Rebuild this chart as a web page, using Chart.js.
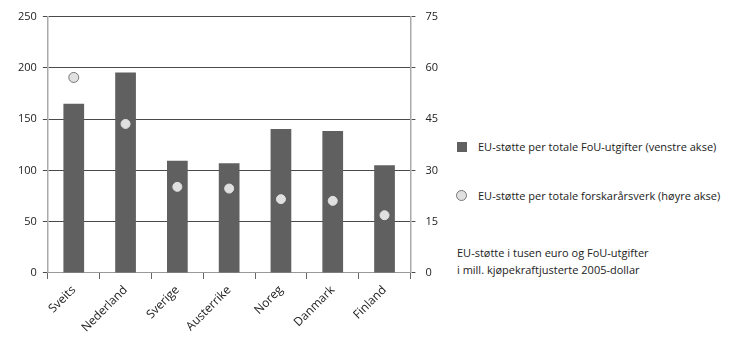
<!DOCTYPE html>
<html>
<head>
<meta charset="utf-8">
<script src="https://cdn.jsdelivr.net/npm/chart.js@4"></script>
<style>
  body { margin: 0; background: #fff; font-family: 'Open Sans', sans-serif; }
  #wrap { position: absolute; left: 0; top: 0; width: 448px; height: 346px; }
  .leg { position: absolute; font-size: 11px; color: #222; white-space: nowrap; }
  .sq { position: absolute; left: 457px; top: 142px; width: 10px; height: 10px; background: #606060; }
  .dot { position: absolute; left: 456px; top: 190px; width: 11px; height: 11px; border-radius: 50%; background: #e0e0e0; border: 1px solid #777; box-sizing: border-box; }
</style>
</head>
<body>
<div id="wrap"><canvas id="myChart"></canvas></div>
<div class="sq"></div>
<div class="leg" style="left:478px; top:139px;">EU-støtte per totale FoU-utgifter (venstre akse)</div>
<div class="dot"></div>
<div class="leg" style="left:478px; top:188px;">EU-støtte per totale forskarårsverk (høyre akse)</div>
<div class="leg" style="left:457px; top:244px; line-height:17px;">EU-støtte i tusen euro og FoU-utgifter<br>i mill. kjøpekraftjusterte 2005-dollar</div>
<script>
'use strict';

let countries = ['Sveits', 'Nederland', 'Sverige', 'Austerrike', 'Noreg', 'Danmark', 'Finland'];
let perSpending = [165, 195.5, 109.5, 107, 140.5, 138.5, 105];
let perResearcher = [57.2, 43.6, 25.2, 24.7, 21.6, 21.1, 16.9];
let leftTicks = [0, 50, 100, 150, 200, 250];
let rightTicks = [0, 15, 30, 45, 60, 75];

Chart.defaults.font.family = "'Open Sans', sans-serif";
Chart.defaults.font.size = 11;
Chart.defaults.color = '#222';

let ctx = document.getElementById('myChart').getContext('2d');
let myChart = new Chart(ctx, {
    data: {
        labels: countries,
        datasets: [{
                type: 'line',
                label: 'EU-støtte per totale forskarårsverk (høyre akse)',
                data: perResearcher,
                yAxisID: 'y1',
                showLine: false,
                pointRadius: [5, 4.5, 4.5, 4.5, 4.5, 4.5, 4.5],
                pointBackgroundColor: '#e0e0e0',
                pointBorderColor: ['#777', '#e0e0e0', '#e0e0e0', '#e0e0e0', '#e0e0e0', '#e0e0e0', '#e0e0e0'],
                pointBorderWidth: 1,
                order: 0
            },
            {
                type: 'bar',
                label: 'EU-støtte per totale FoU-utgifter (venstre akse)',
                data: perSpending,
                yAxisID: 'y',
                backgroundColor: '#606060',
                borderWidth: 0,
                barPercentage: 0.4,
                categoryPercentage: 1,
                order: 1
            }
        ]
    },
    options: {
        responsive: true,
        maintainAspectRatio: false,
        animation: false,
        layout: { padding: { top: 9, right: 0, left: 12, bottom: 7 } },
        plugins: { legend: { display: false }, tooltip: { enabled: false } },
        scales: {
            x: {
                offset: true,
                grid: { offset: true, drawOnChartArea: false, drawTicks: true, tickLength: 6, color: '#666' },
                border: { color: '#999', width: 1 },
                ticks: { minRotation: 45, maxRotation: 45, padding: 4, font: { size: 12 } }
            },
            y: {
                position: 'left',
                min: 0, max: 250,
                afterBuildTicks: function (axis) { axis.ticks = leftTicks.map(v => ({ value: v })); },
                grid: { color: '#4a4a4a', tickLength: 5 },
                border: { color: '#aaa', width: 1.5 },
                ticks: { padding: 6 }
            },
            y1: {
                position: 'right',
                min: 0, max: 75,
                afterBuildTicks: function (axis) { axis.ticks = rightTicks.map(v => ({ value: v })); },
                grid: { drawOnChartArea: false, color: '#4a4a4a', tickLength: 5 },
                border: { color: '#aaa', width: 1.5 },
                ticks: { padding: 10 }
            }
        }
    }
});
</script>
</body>
</html>
